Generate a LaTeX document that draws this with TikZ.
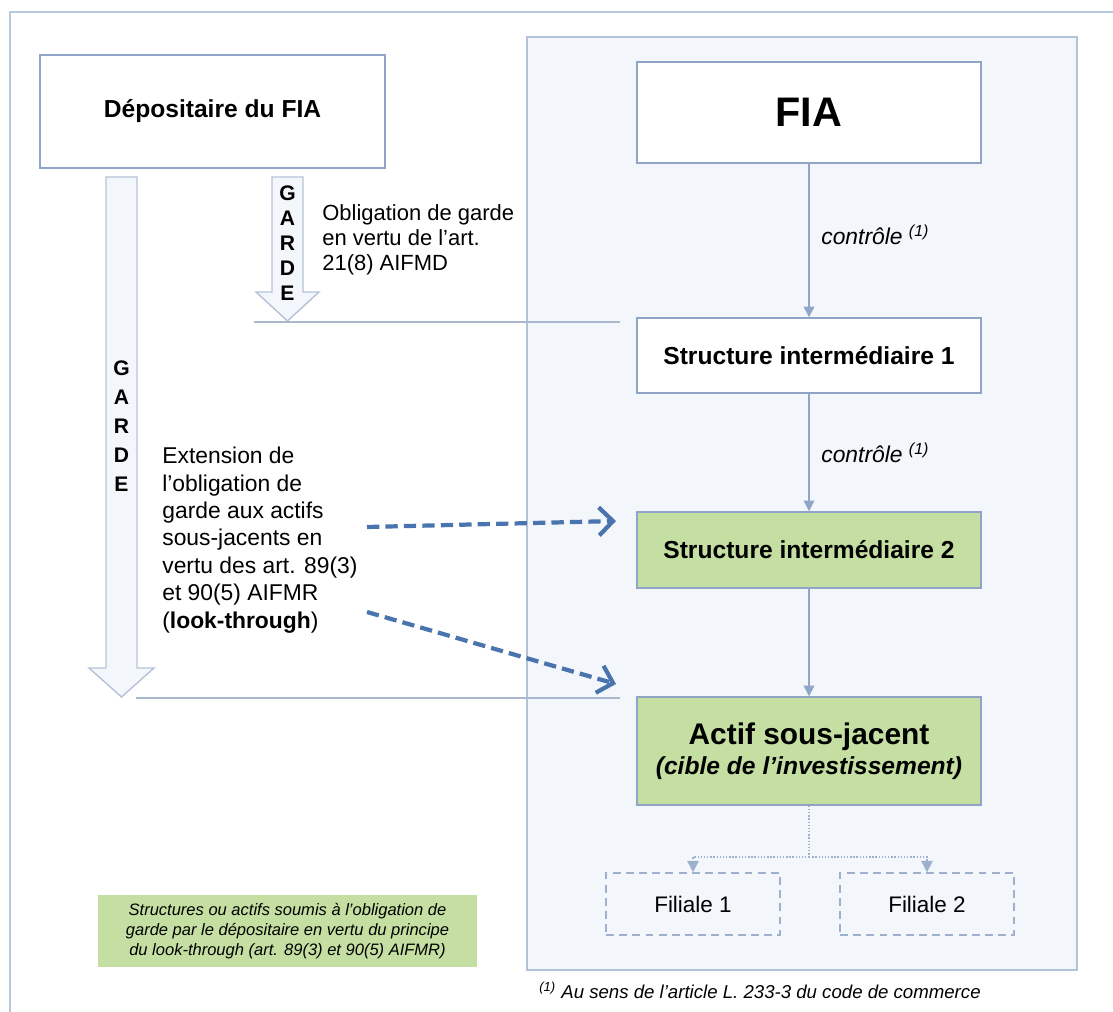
\documentclass[tikz,border=0pt]{standalone}
\usepackage{fontspec}
\setmainfont{Liberation Sans}
\usetikzlibrary{arrows.meta}

\definecolor{frameline}{HTML}{B8C7DB}
\definecolor{panelfill}{HTML}{F3F6FA}
\definecolor{panelline}{HTML}{B3C2D8}
\definecolor{boxline}{HTML}{8FA4C6}
\definecolor{lookgreen}{HTML}{C4DFA1}
\definecolor{gardeline}{HTML}{B5C3D8}
\definecolor{ctrlline}{HTML}{8FA6C9}
\definecolor{dashblue}{HTML}{4A74AE}
\definecolor{filline}{HTML}{9DB0CC}
\definecolor{sepline}{HTML}{A9B8CF}

\begin{document}
\begin{tikzpicture}[
    entity/.style={
        rectangle,
        minimum width=6.88cm,
        minimum height=1.5cm,
        draw=boxline,
        line width=0.85pt,
        fill=white,
        font=\fontsize{14}{16}\selectfont\bfseries
    },
    lookthrough/.style={
        entity,
        fill=lookgreen
    },
    filiale/.style={
        rectangle,
        minimum width=3.48cm,
        minimum height=1.24cm,
        draw=filline,
        line width=0.85pt,
        dash pattern=on 4.5pt off 3pt,
        font=\fontsize{12.8}{14}\selectfont
    },
    garde/.style={
        draw=gardeline,
        line width=0.8pt,
        fill=panelfill
    },
    gardetext/.style={
        align=center,
        inner sep=0pt,
        font=\fontsize{12}{14.2}\selectfont\bfseries
    },
    note/.style={
        align=left,
        inner sep=0pt,
        anchor=west
    },
    ctrl/.style={
        -{Triangle[length=6pt,width=6pt]},
        draw=ctrlline,
        line width=0.8pt
    },
    ctrllabel/.style={
        anchor=west,
        inner sep=0pt,
        font=\fontsize{13}{15}\selectfont\itshape
    },
    sub/.style={
        -{Triangle[length=6.5pt,width=6.5pt]},
        draw=filline,
        line width=0.8pt,
        densely dotted
    },
    look/.style={
        -{Straight Barb[length=8pt,width=16pt]},
        draw=dashblue,
        line width=2.4pt,
        dash pattern=on 7pt off 3.5pt
    },
    sep/.style={
        draw=sepline,
        line width=0.8pt
    }
]

\useasboundingbox (0,0) rectangle (22.26,-20.24);

% Frame and panel
\draw[frameline, line width=0.8pt] (22.26,-0.24) -- (0.2,-0.24) -- (0.2,-20.24);
\draw[panelline, fill=panelfill, line width=0.8pt] (10.54,-0.74) rectangle (21.54,-19.40);

% Depositary
\node[entity, minimum width=6.9cm, minimum height=2.26cm] (dep) at (4.25,-2.23) {Dépositaire du FIA};

% Holding chain
\node[entity, minimum height=2.02cm, font=\fontsize{23.5}{26}\selectfont\bfseries] (fia) at (16.18,-2.25) {FIA};
\node[entity] (si1) at (16.18,-7.11) {Structure intermédiaire 1};
\node[lookthrough, minimum height=1.52cm] (si2) at (16.18,-11.0) {Structure intermédiaire 2};
\node[lookthrough, minimum height=2.16cm, align=center] (actif) at (16.18,-15.02)
    {{\fontsize{17}{20}\selectfont Actif sous-jacent}\\[1pt]\textit{(cible de l’investissement)}};

% Subsidiaries
\node[filiale] (fil1) at (13.86,-18.08) {Filiale 1};
\node[filiale] (fil2) at (18.54,-18.08) {Filiale 2};
\coordinate (split) at (16.18,-17.14);

% Labels
\node[ctrllabel] (ctrl1) at (16.42,-4.7) {contrôle \textsuperscript{(1)}};
\node[ctrllabel] (ctrl2) at (16.42,-9.06) {contrôle \textsuperscript{(1)}};
\node[note, font=\fontsize{12.5}{14.2}\selectfont] (oblig) at (6.44,-4.8)
    {Obligation de garde\\en vertu de l'art.\\21(8) AIFMD};
\node[note, font=\fontsize{13}{15.6}\selectfont] (ext) at (3.24,-10.8)
    {Extension de\\l’obligation de\\garde aux actifs\\sous-jacents en\\vertu des art. 89(3)\\et 90(5) AIFMR\\(\textbf{look-through})};
\node[fill=lookgreen, minimum width=7.58cm, minimum height=1.44cm, align=center,
    font=\fontsize{9.4}{11.3}\selectfont\itshape] (legend) at (5.75,-18.62)
    {Structures ou actifs soumis à l’obligation de\\garde par le dépositaire en vertu du principe\\du look-through (art. 89(3) et 90(5) AIFMR)};
\node[note, font=\fontsize{10.6}{12}\selectfont\itshape] (foot) at (10.78,-19.8)
    {\textsuperscript{(1)} Au sens de l’article L. 233-3 du code de commerce};

% Garde arrows
\draw[garde] (5.44,-3.54) -- (6.06,-3.54) -- (6.06,-5.84) -- (6.38,-5.84) -- (5.75,-6.42)
    -- (5.12,-5.84) -- (5.44,-5.84) -- cycle;
\node[gardetext] (garde1) at (5.75,-4.86) {G\\A\\R\\D\\E};
\draw[garde] (2.12,-3.54) -- (2.74,-3.54) -- (2.74,-13.36) -- (3.08,-13.36) -- (2.43,-13.94)
    -- (1.78,-13.36) -- (2.12,-13.36) -- cycle;
\node[gardetext, font=\fontsize{12}{16.4}\selectfont\bfseries] (garde2) at (2.43,-8.52) {G\\A\\R\\D\\E};

% Separators
\coordinate (sep1a) at (5.08,-6.44);
\coordinate (sep1b) at (12.4,-6.44);
\coordinate (sep2a) at (2.72,-13.96);
\coordinate (sep2b) at (12.4,-13.96);
\draw[sep] (sep1a) -- (sep1b);
\draw[sep] (sep2a) -- (sep2b);

% Arrows
\draw[ctrl] (fia) -- (si1);
\draw[ctrl] (si1) -- (si2);
\draw[ctrl] (si2) -- (actif);
\draw[sub] (actif) -- (split) -| (fil1);
\draw[sub] (split) -| (fil2);

\coordinate (look1a) at (7.34,-10.54);
\coordinate (look1b) at (12.32,-10.42);
\coordinate (look2a) at (7.34,-12.24);
\coordinate (look2b) at (12.32,-13.68);
\draw[look] (look1a) -- (look1b);
\draw[look] (look2a) -- (look2b);

\end{tikzpicture}
\end{document}
